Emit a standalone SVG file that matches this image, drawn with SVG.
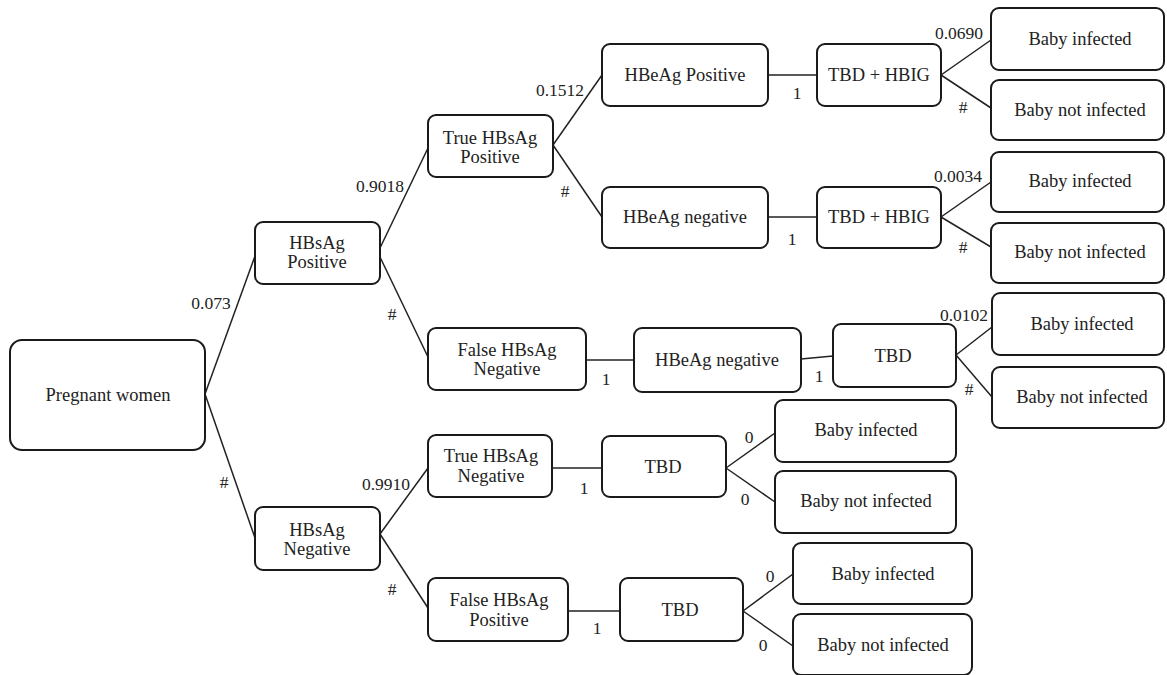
<svg xmlns="http://www.w3.org/2000/svg" width="1167" height="675" viewBox="0 0 1167 675" font-family="Liberation Serif, DejaVu Serif, serif">
<style>
rect{fill:#fff;stroke:#1a1a1a;stroke-width:2}
text{font-family:"Liberation Serif","DejaVu Serif",serif;font-size:18.5px;fill:#222;text-anchor:middle}
.c line{stroke:#222;stroke-width:1.5}
.l text{font-size:17.5px}
</style>
<rect x="0" y="0" width="1167" height="675" style="stroke:none"/>
<g class="c" id="connectors">
<line x1="205" y1="394" x2="255" y2="256"/>
<line x1="205" y1="394" x2="255" y2="538"/>
<line x1="380" y1="248" x2="428" y2="148"/>
<line x1="380" y1="257" x2="428" y2="357"/>
<line x1="553" y1="145" x2="602" y2="75"/>
<line x1="553" y1="145" x2="602" y2="217"/>
<line x1="768" y1="75" x2="817" y2="75"/>
<line x1="768" y1="217" x2="817" y2="217"/>
<line x1="941" y1="75" x2="991" y2="40"/>
<line x1="941" y1="75" x2="991" y2="108"/>
<line x1="941" y1="217" x2="991" y2="182"/>
<line x1="941" y1="217" x2="991" y2="247"/>
<line x1="586" y1="360" x2="634" y2="360"/>
<line x1="801" y1="359" x2="833" y2="356"/>
<line x1="956" y1="355" x2="992" y2="327"/>
<line x1="956" y1="355" x2="992" y2="397"/>
<line x1="380" y1="534" x2="428" y2="468"/>
<line x1="380" y1="534" x2="428" y2="608"/>
<line x1="552" y1="468" x2="602" y2="468"/>
<line x1="726" y1="468" x2="775" y2="433"/>
<line x1="726" y1="468" x2="775" y2="502"/>
<line x1="568" y1="611" x2="620" y2="611"/>
<line x1="743" y1="611" x2="793" y2="574"/>
<line x1="743" y1="611" x2="793" y2="646"/>
</g>
<g class="l" id="labels">
<text x="211" y="309">0.073</text>
<text x="224" y="488">#</text>
<text x="380" y="192">0.9018</text>
<text x="392" y="320">#</text>
<text x="560" y="96">0.1512</text>
<text x="565" y="197">#</text>
<text x="797" y="99">1</text>
<text x="792" y="245">1</text>
<text x="959" y="39">0.0690</text>
<text x="963" y="113">#</text>
<text x="958" y="182">0.0034</text>
<text x="963" y="253">#</text>
<text x="606" y="385">1</text>
<text x="819" y="382">1</text>
<text x="964" y="321">0.0102</text>
<text x="969" y="395">#</text>
<text x="386" y="490">0.9910</text>
<text x="584" y="494">1</text>
<text x="749" y="443">0</text>
<text x="745" y="505">0</text>
<text x="392" y="595">#</text>
<text x="597" y="634">1</text>
<text x="770" y="582">0</text>
<text x="763" y="651">0</text>
</g>
<g id="n-pregnant"><rect x="10" y="340" width="195" height="110" rx="12"/><text x="108" y="401">Pregnant women</text></g>
<g id="n-hbsag-pos"><rect x="255" y="222" width="125" height="62" rx="8"/><text x="317" y="249">HBsAg</text><text x="317" y="268">Positive</text></g>
<g id="n-hbsag-neg"><rect x="255" y="507" width="125" height="63" rx="8"/><text x="317" y="536">HBsAg</text><text x="317" y="555">Negative</text></g>
<g id="n-true-pos"><rect x="428" y="115" width="125" height="62" rx="8"/><text x="490" y="144">True HBsAg</text><text x="490" y="163">Positive</text></g>
<g id="n-hbeag-pos"><rect x="602" y="44" width="166" height="62" rx="8"/><text x="685" y="81">HBeAg Positive</text></g>
<g id="n-hbeag-neg1"><rect x="602" y="187" width="166" height="61" rx="8"/><text x="685" y="223">HBeAg negative</text></g>
<g id="n-tbdhbig1"><rect x="817" y="44" width="124" height="62" rx="8"/><text x="879" y="81">TBD + HBIG</text></g>
<g id="n-tbdhbig2"><rect x="817" y="187" width="124" height="61" rx="8"/><text x="879" y="223">TBD + HBIG</text></g>
<g id="n-inf1"><rect x="991" y="8" width="173" height="62" rx="8"/><text x="1080" y="45">Baby infected</text></g>
<g id="n-not1"><rect x="991" y="80" width="173" height="60" rx="8"/><text x="1080" y="116">Baby not infected</text></g>
<g id="n-inf2"><rect x="991" y="152" width="173" height="60" rx="8"/><text x="1080" y="187">Baby infected</text></g>
<g id="n-not2"><rect x="991" y="223" width="173" height="60" rx="8"/><text x="1080" y="258">Baby not infected</text></g>
<g id="n-false-neg"><rect x="428" y="328" width="158" height="62" rx="8"/><text x="507" y="356">False HBsAg</text><text x="507" y="375">Negative</text></g>
<g id="n-hbeag-neg2"><rect x="634" y="328" width="167" height="64" rx="8"/><text x="717" y="366">HBeAg negative</text></g>
<g id="n-tbd1"><rect x="833" y="324" width="123" height="63" rx="8"/><text x="893" y="362">TBD</text></g>
<g id="n-inf3"><rect x="992" y="293" width="172" height="62" rx="8"/><text x="1082" y="330">Baby infected</text></g>
<g id="n-not3"><rect x="992" y="367" width="172" height="61" rx="8"/><text x="1082" y="403">Baby not infected</text></g>
<g id="n-true-neg"><rect x="428" y="435" width="124" height="62" rx="8"/><text x="491" y="462">True HBsAg</text><text x="491" y="482">Negative</text></g>
<g id="n-tbd2"><rect x="602" y="436" width="124" height="61" rx="8"/><text x="663" y="473">TBD</text></g>
<g id="n-inf4"><rect x="775" y="400" width="181" height="62" rx="8"/><text x="866" y="436">Baby infected</text></g>
<g id="n-not4"><rect x="775" y="471" width="181" height="62" rx="8"/><text x="866" y="507">Baby not infected</text></g>
<g id="n-false-pos"><rect x="428" y="578" width="140" height="63" rx="8"/><text x="499" y="606">False HBsAg</text><text x="499" y="626">Positive</text></g>
<g id="n-tbd3"><rect x="620" y="578" width="123" height="63" rx="8"/><text x="680" y="616">TBD</text></g>
<g id="n-inf5"><rect x="793" y="543" width="179" height="61" rx="8"/><text x="883" y="580">Baby infected</text></g>
<g id="n-not5"><rect x="793" y="614" width="179" height="61" rx="8"/><text x="883" y="651">Baby not infected</text></g>
</svg>
